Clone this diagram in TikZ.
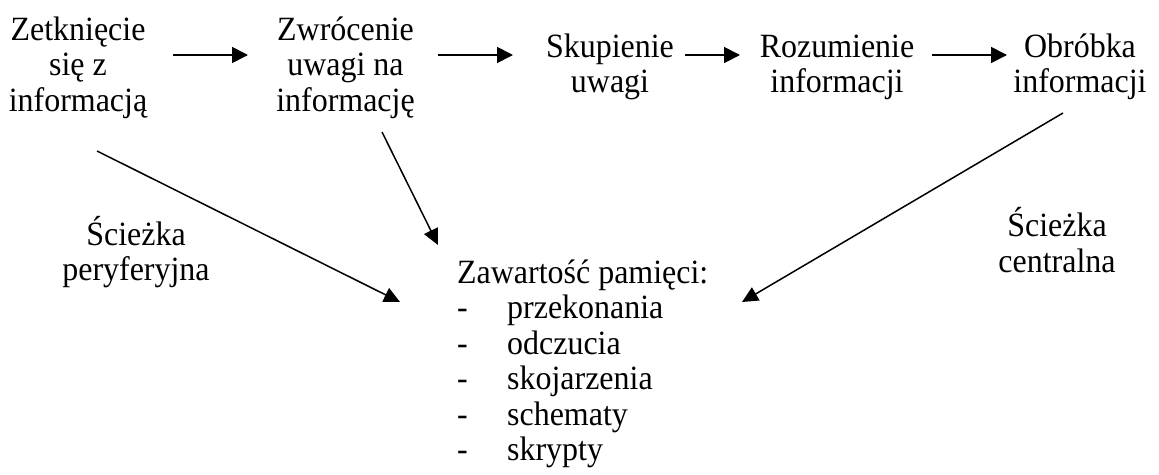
\documentclass[tikz,border=0pt]{standalone}
\usepackage{fontspec}
\setmainfont[FakeStretch=0.94]{Liberation Serif}
\usetikzlibrary{arrows.meta}
\newcommand{\stack}[1]{\begin{tabular}[t]{@{}c@{}}#1\end{tabular}}
\begin{document}
\begin{tikzpicture}[x=1pt,y=-1pt,
  txt/.style={anchor=base,inner sep=0pt,font=\fontsize{34}{35.5}\selectfont},
  arr/.style={line width=1.8pt,-{Triangle[length=16pt,width=16pt]}},
  thinarr/.style={line width=1.5pt,-{Triangle[length=16pt,width=15pt]}}]
\useasboundingbox (0,0) rectangle (1159,474);

% stages of processing
\node[txt] (contact) at (78,40) {\stack{Zetknięcie\\się z\\informacją}};
\node[txt] (attend) at (345.5,40) {\stack{Zwrócenie\\uwagi na\\informację}};
\node[txt] (focus) at (610,57) {\stack{Skupienie\\uwagi}};
\node[txt] (understand) at (837,57) {\stack{Rozumienie\\informacji}};
\node[txt] (process) at (1080,57) {\stack{Obróbka\\informacji}};

% route labels
\node[txt] (periph) at (136,245) {\stack{Ścieżka\\peryferyjna}};
\node[txt] (central) at (1057,236.5) {\stack{Ścieżka\\centralna}};

% memory contents
\node[txt,anchor=base west] (memory) at (457,283)
  {\begin{tabular}[t]{@{}p{50pt}@{}l@{}}
   \multicolumn{2}{@{}l@{}}{Zawartość pamięci:}\\
   - & przekonania\\
   - & odczucia\\
   - & skojarzenia\\
   - & schematy\\
   - & skrypty
   \end{tabular}};

% arrow end points
\coordinate (a1s) at (173,55);  \coordinate (a1e) at (248,55);
\coordinate (a2s) at (438,55);  \coordinate (a2e) at (513,55);
\coordinate (a3s) at (685,55);  \coordinate (a3e) at (740,55);
\coordinate (a4s) at (932,55);  \coordinate (a4e) at (1007,55);
\coordinate (pS) at (97,151);   \coordinate (pE) at (400,302);
\coordinate (mS) at (382,132);  \coordinate (mE) at (438,245);
\coordinate (cS) at (1063,113); \coordinate (cE) at (742,302);

\draw[arr] (a1s) -- (a1e);
\draw[arr] (a2s) -- (a2e);
\draw[arr] (a3s) -- (a3e);
\draw[arr] (a4s) -- (a4e);
\draw[thinarr] (pS) -- (pE);
\draw[thinarr] (mS) -- (mE);
\draw[thinarr] (cS) -- (cE);
\end{tikzpicture}
\end{document}
